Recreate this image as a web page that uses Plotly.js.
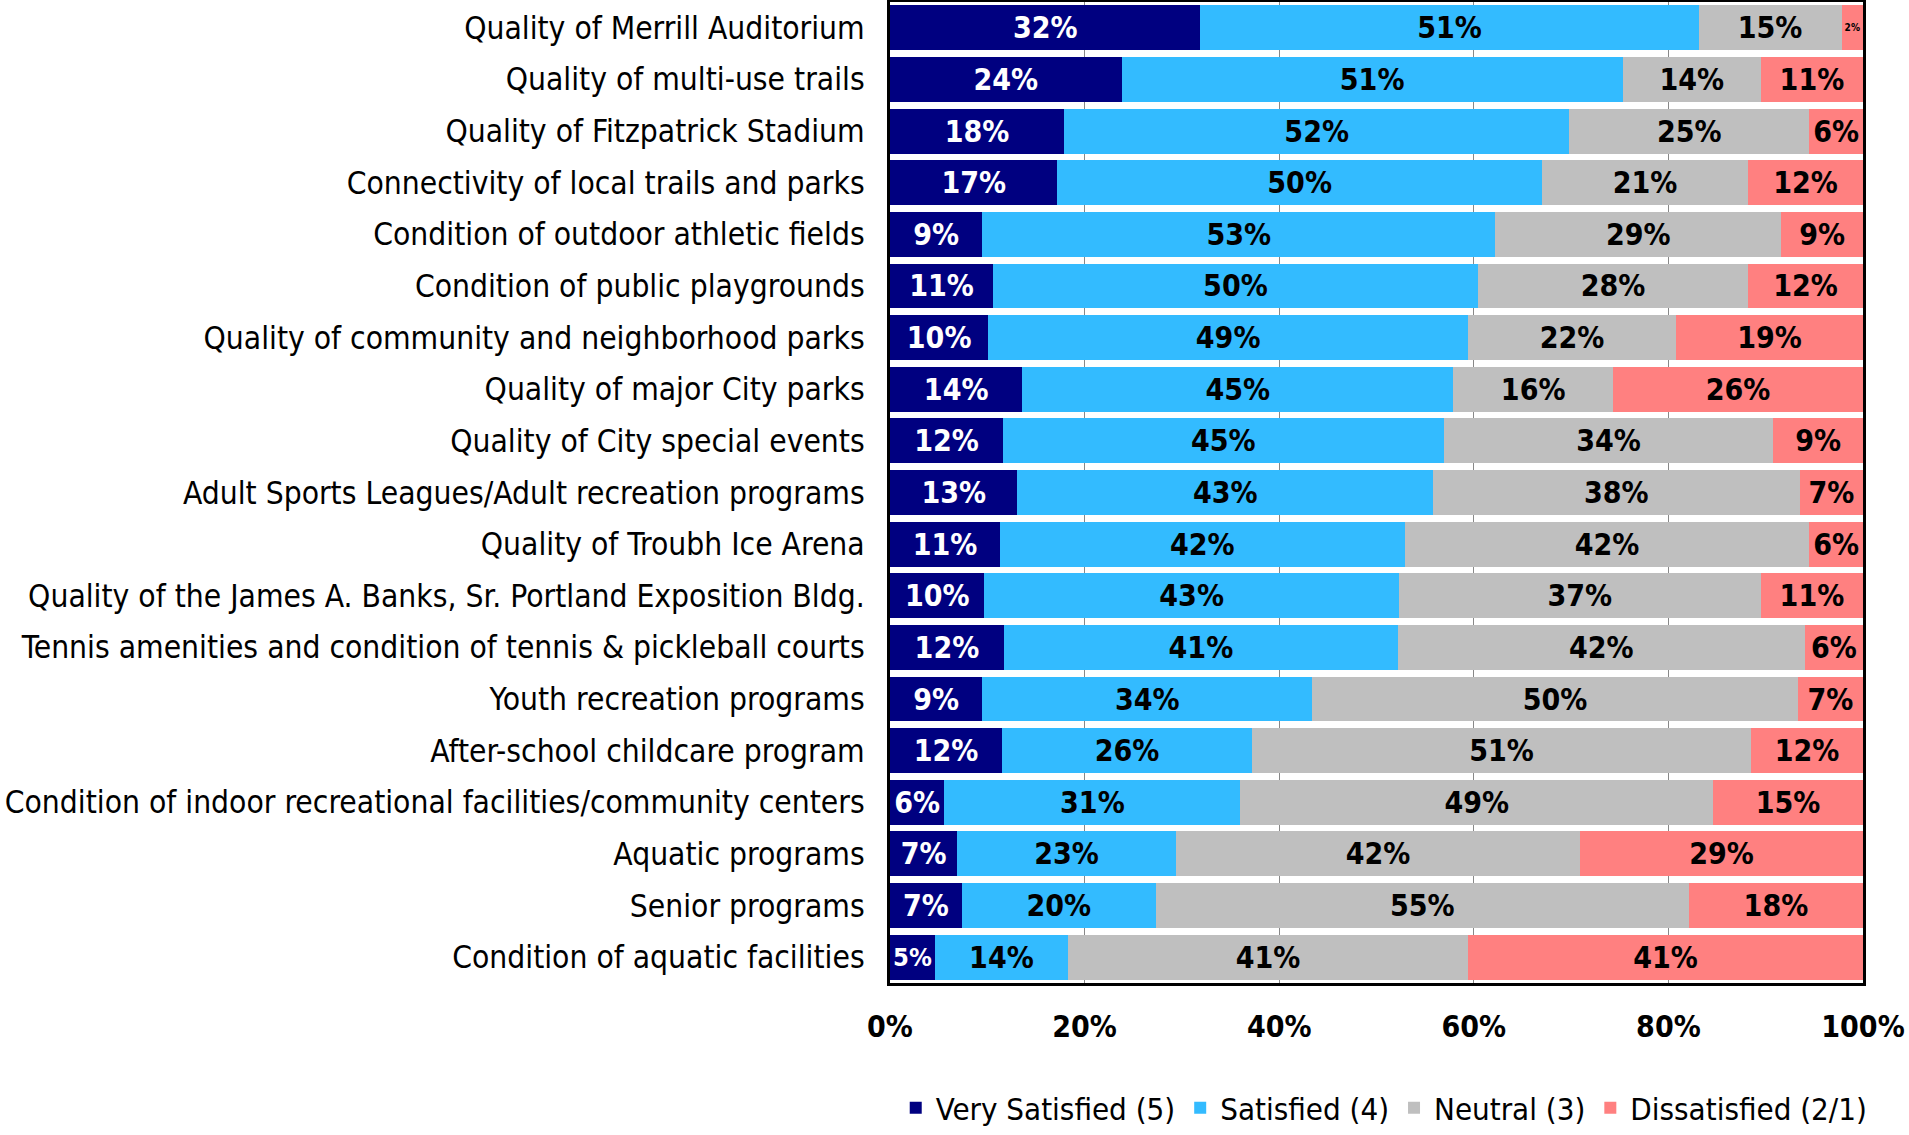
<!DOCTYPE html>
<html>
<head>
<meta charset="utf-8">
<script src="https://cdn.plot.ly/plotly-3.0.1.min.js"></script>
<style>
html,body{margin:0;padding:0;background:#fff;}
#chart{width:1909px;height:1135px;}
</style>
</head>
<body>
<div id="chart"></div>
<script>
const categories = [
  "Quality of Merrill Auditorium",
  "Quality of multi-use trails",
  "Quality of Fitzpatrick Stadium",
  "Connectivity of local trails and parks",
  "Condition of outdoor athletic fields",
  "Condition of public playgrounds",
  "Quality of community and neighborhood parks",
  "Quality of major City parks",
  "Quality of City special events",
  "Adult Sports Leagues/Adult recreation programs",
  "Quality of Troubh Ice Arena",
  "Quality of the James A. Banks, Sr. Portland Exposition Bldg.",
  "Tennis amenities and condition of tennis & pickleball courts",
  "Youth recreation programs",
  "After-school childcare program",
  "Condition of indoor recreational facilities/community centers",
  "Aquatic programs",
  "Senior programs",
  "Condition of aquatic facilities"
];
// segment widths (percent)
const verySatisfied = [31.9,23.8,17.9,17.2,9.5,10.6,10.1,13.6,11.6,13.1,11.3,9.7,11.7,9.5,11.5,5.6,6.9,7.4,4.6];
const satisfied     = [51.2,51.5,51.9,49.8,52.7,49.8,49.3,44.3,45.3,42.7,41.6,42.6,40.5,33.9,25.7,30.4,22.5,19.9,13.7];
const neutral       = [14.7,14.2,24.7,21.2,29.4,27.8,21.4,16.4,33.9,37.7,41.6,37.2,41.8,49.9,51.3,48.6,41.5,54.8,41.1];
const dissatisfied  = [2.2,10.5,5.5,11.8,8.4,11.8,19.2,25.7,9.2,6.5,5.5,10.5,6.0,6.7,11.5,15.4,29.1,17.9,40.6];
// labels printed on the bars
const verySatisfiedLabels = [32,24,18,17,9,11,10,14,12,13,11,10,12,9,12,6,7,7,5];
const satisfiedLabels     = [51,51,52,50,53,50,49,45,45,43,42,43,41,34,26,31,23,20,14];
const neutralLabels       = [15,14,25,21,29,28,22,16,34,38,42,37,42,50,51,49,42,55,41];
const dissatisfiedLabels  = [2,11,6,12,9,12,19,26,9,7,6,11,6,7,12,15,29,18,41];
const seriesNames = ["Very Satisfied (5)","Satisfied (4)","Neutral (3)","Dissatisfied (2/1)"];
const xTickVals = [0,20,40,60,80,100];
const xTickText = ["0%","20%","40%","60%","80%","100%"];

const FONT = "'DejaVu Sans Condensed', 'DejaVu Sans', sans-serif";
const colors = ["#000080","#33BBFF","#BFBFBF","#FF8080"];
const textColors = ["#FFFFFF","#000000","#000000","#000000"];
const allVals = [verySatisfied, satisfied, neutral, dissatisfied];
const allLabels = [verySatisfiedLabels, satisfiedLabels, neutralLabels, dissatisfiedLabels];

const traces = allVals.map((vals, i) => ({
  type: 'bar',
  orientation: 'h',
  name: seriesNames[i],
  y: categories,
  x: vals,
  text: allLabels[i].map(v => v + '%'),
  textposition: 'inside',
  insidetextanchor: 'middle',
  textangle: 0,
  insidetextfont: {family: FONT, size: 30, color: textColors[i], weight: 'bold'},
  marker: {color: colors[i], line: {width: 0}},
  hoverinfo: 'skip'
}));

const layout = {
  width: 1909,
  height: 1135,
  barmode: 'stack',
  bargap: 0.13,
  paper_bgcolor: '#fff',
  plot_bgcolor: '#fff',
  font: {family: FONT, color: '#000'},
  margin: {l: 890, r: 46, t: 2, b: 152, pad: 0, autoexpand: false},
  xaxis: {
    range: [0, 100],
    tickvals: xTickVals,
    ticktext: xTickText,
    tickfont: {family: FONT, size: 30, color: '#000', weight: 'bold'},
    ticklabelstandoff: 15,
    showgrid: true,
    gridcolor: '#888888',
    gridwidth: 1,
    zeroline: false,
    showline: true,
    linecolor: '#000',
    linewidth: 3,
    mirror: true,
    ticks: '',
    fixedrange: true
  },
  yaxis: {
    autorange: 'reversed',
    type: 'category',
    tickfont: {family: FONT, size: 31.5, color: '#000'},
    ticklabelstandoff: 16,
    showline: true,
    linecolor: '#000',
    linewidth: 3,
    mirror: true,
    ticks: '',
    showgrid: false,
    fixedrange: true
  },
  showlegend: true,
  legend: {
    orientation: 'h',
    x: 1.01,
    xanchor: 'right',
    y: -0.1,
    yanchor: 'top',
    font: {family: FONT, size: 31, color: '#000'},
    traceorder: 'normal',
    itemclick: false,
    itemdoubleclick: false,
    bgcolor: 'rgba(0,0,0,0)'
  }
};

Plotly.newPlot('chart', traces, layout, {displayModeBar: false, staticPlot: true});
</script>
</body>
</html>
